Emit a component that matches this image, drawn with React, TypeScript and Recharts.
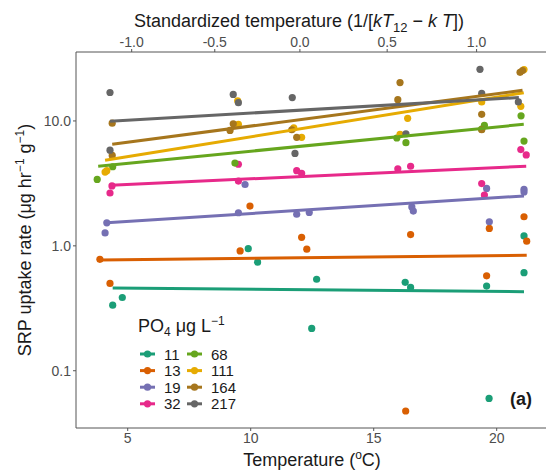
import React from "react";
import { ComposedChart, Scatter, XAxis, YAxis } from "recharts";

const LEVELS = ["11", "13", "19", "32", "68", "111", "164", "217"];
const COLORS = ["#1B9E77", "#D95F02", "#7570B3", "#E7298A", "#66A61E", "#E6AB02", "#A6761D", "#666666"];

// measured temperature (°C) and SRP uptake (µg hr-1 g-1), one pair of arrays per PO4 level
const TEMP_11 = [4.39, 4.78, 9.9, 10.28, 12.48, 12.68, 16.28, 16.5, 19.59, 19.69, 21.11, 21.11];
const SRP_11 = [0.335, 0.386, 0.95, 0.74, 0.218, 0.54, 0.51, 0.465, 0.476, 0.06, 1.2, 0.61];
const TEMP_13 = [3.87, 4.28, 9.57, 9.97, 12.07, 12.28, 16.3, 16.5, 19.59, 19.7, 21.11, 21.22];
const SRP_13 = [0.78, 0.5, 0.91, 2.08, 1.17, 0.94, 0.0476, 1.23, 0.575, 1.38, 1.71, 1.09];
const TEMP_19 = [4.08, 4.15, 9.5, 9.77, 11.87, 12.38, 16.55, 16.61, 19.59, 19.7, 21.11, 21.11];
const SRP_19 = [1.27, 1.53, 1.84, 3.1, 1.79, 1.85, 2.05, 1.9, 2.88, 1.56, 2.84, 2.7];
const TEMP_32 = [4.28, 4.36, 9.5, 9.5, 11.87, 12.07, 15.98, 16.5, 19.39, 19.5, 20.98, 21.2];
const SRP_32 = [2.65, 3.02, 4.5, 3.3, 4.0, 3.8, 4.14, 4.34, 3.15, 2.55, 5.9, 5.35];
const TEMP_68 = [3.76, 4.39, 9.36, 15.94, 16.31, 19.39, 19.5, 20.99, 21.11];
const SRP_68 = [3.4, 4.3, 4.6, 7.3, 6.7, 8.6, 9.2, 11.0, 6.9];
const TEMP_111 = [4.08, 4.15, 9.47, 9.5, 11.75, 12.07, 16.07, 16.38, 19.39, 20.98, 21.11];
const SRP_111 = [3.9, 4.0, 14.5, 9.4, 8.8, 7.4, 7.8, 10.5, 14.2, 13.1, 25.8];
const TEMP_164 = [4.37, 4.37, 9.16, 9.29, 11.67, 11.87, 15.98, 16.07, 19.39, 19.39, 20.95, 21.05];
const SRP_164 = [9.6, 5.3, 8.4, 9.5, 8.5, 7.4, 14.8, 20.3, 11.3, 8.5, 24.5, 25.3];
const TEMP_217 = [4.28, 4.28, 9.29, 9.5, 11.69, 11.8, 16.31, 19.32, 19.39, 20.88];
const SRP_217 = [16.9, 5.83, 16.3, 14.0, 15.4, 5.5, 7.9, 25.9, 16.6, 14.2];

const TEMPS = [TEMP_11, TEMP_13, TEMP_19, TEMP_32, TEMP_68, TEMP_111, TEMP_164, TEMP_217];
const SRPS = [SRP_11, SRP_13, SRP_19, SRP_32, SRP_68, SRP_111, SRP_164, SRP_217];

// fitted lines: end points
const FIT_T_START = [4.39, 3.87, 4.15, 4.31, 3.8, 4.08, 4.37, 4.28];
const FIT_T_END = [21.11, 21.22, 21.11, 21.2, 21.1, 21.1, 21.05, 20.9];
const FIT_V_START = [0.46, 0.77, 1.53, 3.06, 4.34, 4.85, 6.5, 9.95];
const FIT_V_END = [0.43, 0.84, 2.51, 4.34, 9.4, 16.8, 17.6, 15.4];

const Y_TICKS = [0.1, 1, 10];
const X_TICKS = [5, 10, 15, 20];
const TOP_TICKS = [-1, -0.5, 0, 0.5, 1];
const TOP_TICK_LABELS = ["-1.0", "-0.5", "0.0", "0.5", "1.0"];

// 1/kT12 - 1/kT  ->  °C
const K_B = 8.617e-5;
const toCelsius = (s: number) => 1 / (K_B * (1 / (K_B * 285.15) - s)) - 273.15;

const series = LEVELS.map((name, i) => ({
  name,
  color: COLORS[i],
  points: TEMPS[i].map((t, j) => ({ t, v: SRPS[i][j] })),
  fit: [
    { t: FIT_T_START[i], v: FIT_V_START[i] },
    { t: FIT_T_END[i], v: FIT_V_END[i] },
  ],
}));

const FONT = "'Liberation Sans', Arial, sans-serif";
const TICK = { fill: "#4D4D4D", fontSize: 14, fontFamily: FONT };
const AXIS = "#555";

function Overlay() {
  const col1 = series.slice(0, 4);
  const col2 = series.slice(4);
  return (
    <svg width={546} height={473} style={{ position: "absolute", left: 0, top: 0, pointerEvents: "none" }} fontFamily={FONT}>
      <text x={299} y={27} textAnchor="middle" fontSize={18} fill="#1a1a1a">
        Standardized temperature (1/[<tspan fontStyle="italic">kT</tspan>
        <tspan fontSize={13} dy={5}>12</tspan>
        <tspan dy={-5}> − </tspan>
        <tspan fontStyle="italic">k T</tspan>])
      </text>
      <text x={312} y={466} textAnchor="middle" fontSize={18} fill="#1a1a1a">
        Temperature (<tspan fontSize={12} dy={-7}>o</tspan>
        <tspan dy={7}>C)</tspan>
      </text>
      <text transform="translate(31,240) rotate(-90)" textAnchor="middle" fontSize={18} fill="#1a1a1a">
        SRP uptake rate (μg hr<tspan fontSize={12} dy={-7}>−1</tspan>
        <tspan dy={7}> g</tspan>
        <tspan fontSize={12} dy={-7}>−1</tspan>
        <tspan dy={7}>)</tspan>
      </text>
      <text x={138} y={332} fontSize={18} fill="#1a1a1a">
        PO<tspan fontSize={12} dy={4}>4</tspan>
        <tspan dy={-4}> μg L</tspan>
        <tspan fontSize={12} dy={-7}>−1</tspan>
      </text>
      {[col1, col2].map((col, c) =>
        col.map((s, r) => {
          const x = 140 + c * 47;
          const y = 354 + r * 16.6;
          return (
            <g key={s.name}>
              <line x1={x} x2={x + 15} y1={y} y2={y} stroke={s.color} strokeWidth={3} />
              <circle cx={x + 7.5} cy={y} r={3.6} fill={s.color} />
              <text x={x + 24} y={y + 5.5} fontSize={15} fill="#1a1a1a">{s.name}</text>
            </g>
          );
        })
      )}
      <text x={521} y={405} textAnchor="middle" fontSize={18} fontWeight="bold" fill="#1a1a1a">(a)</text>
    </svg>
  );
}

export default function App() {
  return (
    <div style={{ position: "absolute", left: 0, top: 0, width: 546, height: 473, background: "#fff" }}>
      <ComposedChart width={546} height={473} margin={{ top: 0, right: 0, bottom: 0, left: 0 }}>
        <XAxis
          xAxisId="bottom"
          dataKey="t"
          type="number"
          orientation="bottom"
          domain={[2.898, 22.004]}
          ticks={X_TICKS}
          height={45}
          stroke={AXIS}
          tick={TICK}
          tickSize={3}
          tickMargin={2}
          allowDataOverflow
        />
        <XAxis
          xAxisId="top"
          dataKey="t"
          type="number"
          orientation="top"
          domain={[2.898, 22.004]}
          ticks={TOP_TICKS.map(toCelsius)}
          tickFormatter={(_v: number, i: number) => TOP_TICK_LABELS[i]}
          height={52}
          stroke={AXIS}
          tick={TICK}
          tickSize={3}
          tickMargin={2}
          allowDataOverflow
        />
        <YAxis
          dataKey="v"
          type="number"
          scale="log"
          domain={[0.0348, 35.65]}
          ticks={Y_TICKS}
          tickFormatter={(v: number) => v.toFixed(1)}
          width={76}
          stroke={AXIS}
          tick={TICK}
          tickSize={3}
          tickMargin={2}
          allowDataOverflow
        />
        {series.map((s) => (
          <Scatter
            key={`pts-${s.name}`}
            xAxisId="bottom"
            data={s.points}
            fill={s.color}
            isAnimationActive={false}
            shape={(p: any) => <circle cx={p.cx} cy={p.cy} r={3.6} fill={s.color} />}
          />
        ))}
        {series.map((s) => (
          <Scatter
            key={`fit-${s.name}`}
            xAxisId="bottom"
            data={s.fit}
            fill={s.color}
            line={{ stroke: s.color, strokeWidth: 3 }}
            isAnimationActive={false}
            shape={() => <g />}
          />
        ))}
      </ComposedChart>
      <Overlay />
    </div>
  );
}
